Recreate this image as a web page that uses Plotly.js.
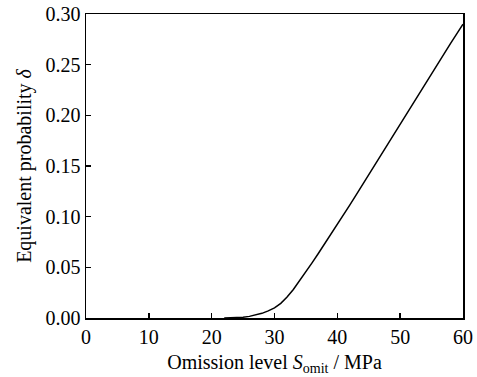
<!DOCTYPE html>
<html>
<head>
<meta charset="utf-8">
<script src="https://cdn.plot.ly/plotly-3.0.1.min.js"></script>
<style>html,body{margin:0;padding:0;background:#fff;}#chart{width:477px;height:377px;}</style>
</head>
<body>
<div id="chart"></div>
<script>
const omissionLevel = [22, 23, 24, 25, 26, 27, 28, 29, 30, 31, 32, 33, 34, 35, 36, 37, 38, 39, 40, 41, 42, 43, 44, 45, 46, 47, 48, 49, 50, 51, 52, 53, 54, 55, 56, 57, 58, 59, 60];
const equivalentProbability = [0, 0.0001, 0.0004, 0.0008, 0.0016, 0.0028, 0.0046, 0.007, 0.0100, 0.0145, 0.0207, 0.0282, 0.0367, 0.0456, 0.0547, 0.0639, 0.0732, 0.0826, 0.0922, 0.1019, 0.1117, 0.1216, 0.1316, 0.1417, 0.1518, 0.1619, 0.1720, 0.1820, 0.1920, 0.2020, 0.2119, 0.2218, 0.2316, 0.2414, 0.2512, 0.2610, 0.2707, 0.2804, 0.2900];
const xTicks = [0, 10, 20, 30, 40, 50, 60];
const yTicks = [0.00, 0.05, 0.10, 0.15, 0.20, 0.25, 0.30];
const yTickLabels = ['0.00', '0.05', '0.10', '0.15', '0.20', '0.25', '0.30'];

const fam = 'Times New Roman, Liberation Serif, serif';
const tickFont = {family: fam, size: 20, color: '#000'};
const titleFont = {family: fam, size: 20, color: '#000'};

Plotly.newPlot('chart', [{
  x: omissionLevel,
  y: equivalentProbability,
  type: 'scatter',
  mode: 'lines',
  line: {color: '#000', width: 1.5},
  hoverinfo: 'skip'
}], {
  width: 477, height: 377,
  margin: {l: 86, r: 14, t: 14, b: 59},
  paper_bgcolor: '#fff', plot_bgcolor: '#fff',
  showlegend: false,
  font: titleFont,
  xaxis: {
    range: [0, 60], tickvals: xTicks, ticktext: xTicks.map(String),
    ticks: 'inside', ticklen: 5, tickwidth: 1.5, tickcolor: '#000',
    showline: true, linecolor: '#000', linewidth: 1.5, mirror: true,
    showgrid: false, zeroline: false, tickfont: tickFont,
    title: {text: 'Omission level <i>S</i><sub>omit</sub> / MPa', font: titleFont, standoff: 8},
    automargin: false
  },
  yaxis: {
    range: [0, 0.30], tickvals: yTicks, ticktext: yTickLabels,
    ticks: 'inside', ticklen: 5, tickwidth: 1.5, tickcolor: '#000',
    showline: true, linecolor: '#000', linewidth: 1.5, mirror: true,
    showgrid: false, zeroline: false, tickfont: tickFont,
    title: {text: 'Equivalent probability <i>δ</i>', font: titleFont, standoff: 8},
    automargin: false
  }
}, {staticPlot: true, displayModeBar: false});
</script>
</body>
</html>
